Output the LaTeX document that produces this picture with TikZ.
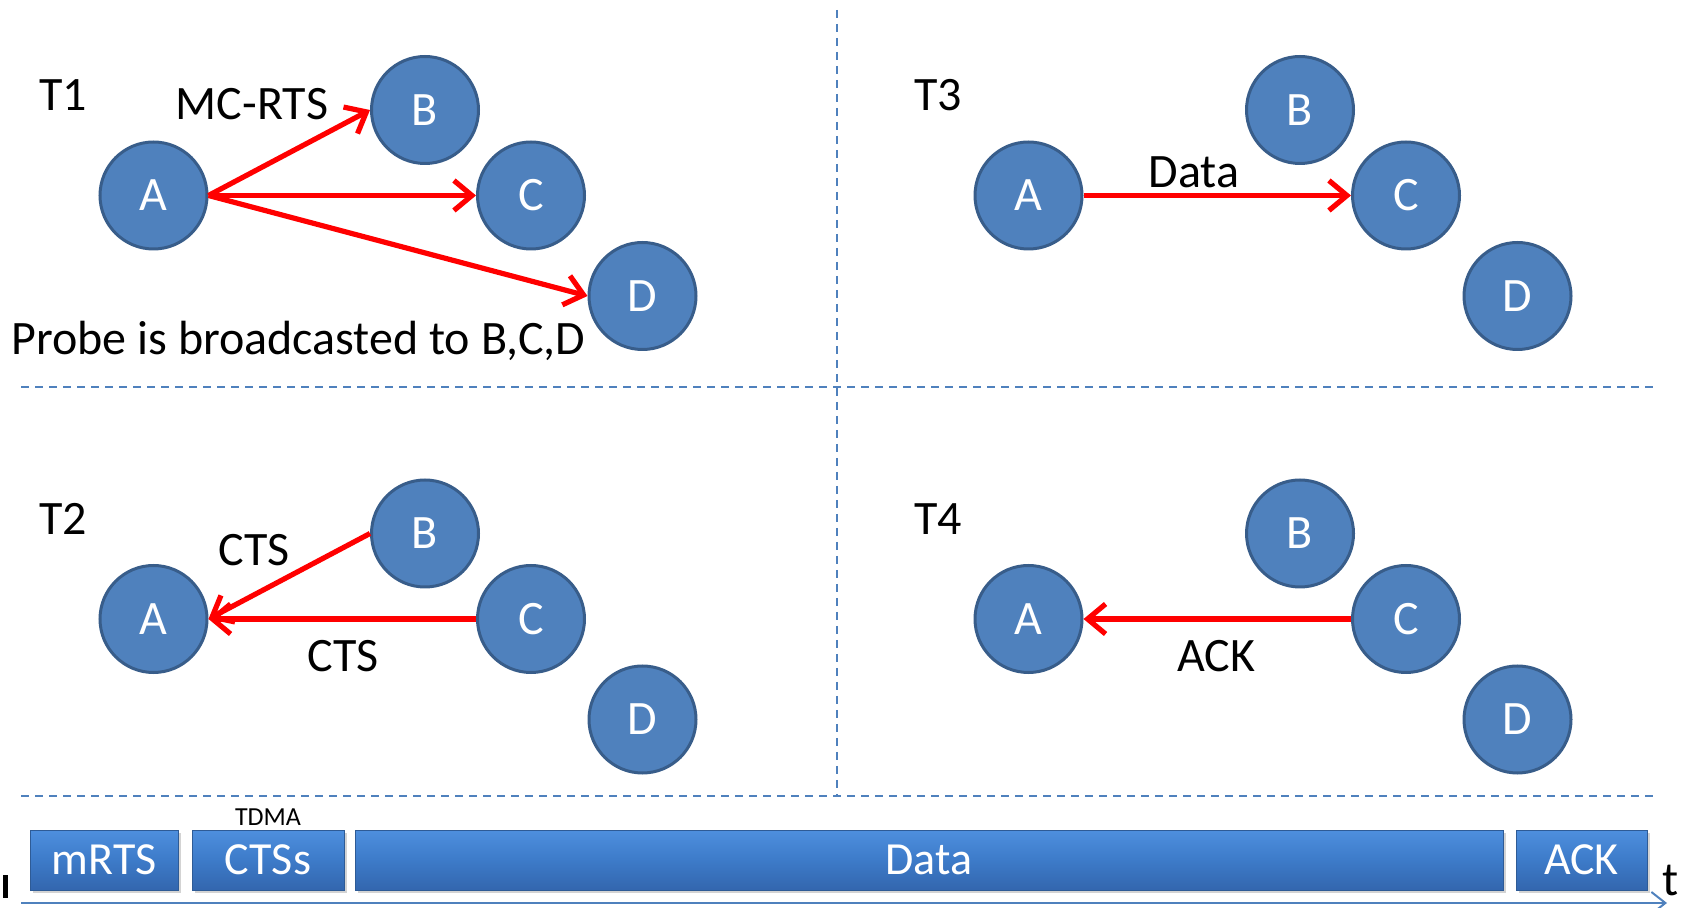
\documentclass[tikz,border=0pt]{standalone}
\usepackage{fontspec}
\setmainfont{Carlito}
\usetikzlibrary{arrows.meta,shadows}
\definecolor{nodeblue}{HTML}{4F81BD}
\definecolor{nodeedge}{HTML}{385D8A}
\definecolor{boxtop}{HTML}{4E8FDE}
\definecolor{boxmid}{HTML}{3D7BC9}
\definecolor{boxbot}{HTML}{3366AE}
\definecolor{boxedge}{HTML}{2E5B96}
\tikzset{
  station/.style={circle, fill=nodeblue, draw=nodeedge, line width=1.5pt, minimum size=53.5pt, inner sep=0pt, text=white, font=\fontsize{24}{28}\selectfont},
  msg/.style={draw=red, line width=2.6pt, -{Straight Barb[length=9pt,width=15pt]}},
  lbl/.style={font=\fontsize{24}{28}\selectfont, inner sep=0pt},
  sep/.style={draw=nodeblue, line width=1pt, dash pattern=on 4pt off 3pt},
  slot/.style={rectangle, draw=boxedge, line width=0.5pt, top color=boxtop, bottom color=boxbot, middle color=boxmid, text=white, minimum height=30pt, inner sep=0pt, font=\fontsize{23}{27}\selectfont, drop shadow={shadow xshift=1.5pt, shadow yshift=-1.5pt, opacity=0.35}},
  timeaxis/.style={draw=nodeblue, line width=1pt, -{Straight Barb[length=7pt,width=11pt]}}
}
\begin{document}
\begin{tikzpicture}[x=0.5pt,y=-0.5pt]
\useasboundingbox (0,0) rectangle (1693,908);
% separators
\coordinate (h1a) at (21,387); \coordinate (h1b) at (1653,387);
\coordinate (h2a) at (21,796); \coordinate (h2b) at (1653,796);
\coordinate (v1a) at (837,10); \coordinate (v1b) at (837,796);
\draw[sep] (h1a) -- (h1b);
\draw[sep] (h2a) -- (h2b);
\draw[sep] (v1a) -- (v1b);

% ---- T1 ----
\node[lbl] (t1) at (63,95.5) {T1};
\node[station] (A1) at (153.5,195.5) {A};
\node[station] (B1) at (425,110) {B};
\node[station] (C1) at (531,195.5) {C};
\node[station] (D1) at (642.5,296) {D};
\draw[msg] (A1.east) -- (B1.west);
\draw[msg] (A1.east) -- (C1.west);
\draw[msg] (A1.east) -- (D1.west);
\node[lbl] (mcrts) at (252,104) {MC-RTS};
\node[lbl, anchor=base west] (probe) at (11,355) {Probe is broadcasted to B,C,D};

% ---- T3 ----
\node[lbl] (t3) at (938,95.5) {T3};
\node[station] (A3) at (1028.5,195.5) {A};
\node[station] (B3) at (1300,110) {B};
\node[station] (C3) at (1406,195.5) {C};
\node[station] (D3) at (1517.5,296) {D};
\draw[msg] (A3.east) -- (C3.west);
\node[lbl] (data) at (1194,172) {Data};

% ---- T2 ----
\node[lbl] (t2) at (63,519) {T2};
\node[station] (A2) at (153.5,619) {A};
\node[station] (B2) at (425,533.5) {B};
\node[station] (C2) at (531,619) {C};
\node[station] (D2) at (642.5,719.5) {D};
\draw[msg] (B2.west) -- (A2.east);
\draw[msg] (C2.west) -- (A2.east);
\node[lbl] (cts1) at (254,550) {CTS};
\node[lbl] (cts2) at (343,656.5) {CTS};

% ---- T4 ----
\node[lbl] (t4) at (938,519) {T4};
\node[station] (A4) at (1028.5,619) {A};
\node[station] (B4) at (1300,533.5) {B};
\node[station] (C4) at (1406,619) {C};
\node[station] (D4) at (1517.5,719.5) {D};
\draw[msg] (C4.west) -- (A4.east);
\node[lbl] (ack) at (1216,656.5) {ACK};

% ---- time line ----
\node[slot, minimum width=74pt] (s1) at (104,860) {mRTS};
\node[slot, minimum width=76pt] (s2) at (268,860) {CTSs};
\node[slot, minimum width=574pt] (s3) at (929,860) {Data};
\node[slot, minimum width=65.5pt] (s4) at (1581.5,860) {ACK};
\node[font=\fontsize{13}{15}\selectfont, inner sep=0pt] (tdma) at (268,817) {TDMA};
\coordinate (ax0) at (21,903);
\coordinate (ax1) at (1667,903);
\draw[timeaxis] (ax0) -- (ax1);
\node[lbl] (tt) at (1671,880) {t};
\fill[black] (3,875) rectangle (8,898);
\end{tikzpicture}
\end{document}
